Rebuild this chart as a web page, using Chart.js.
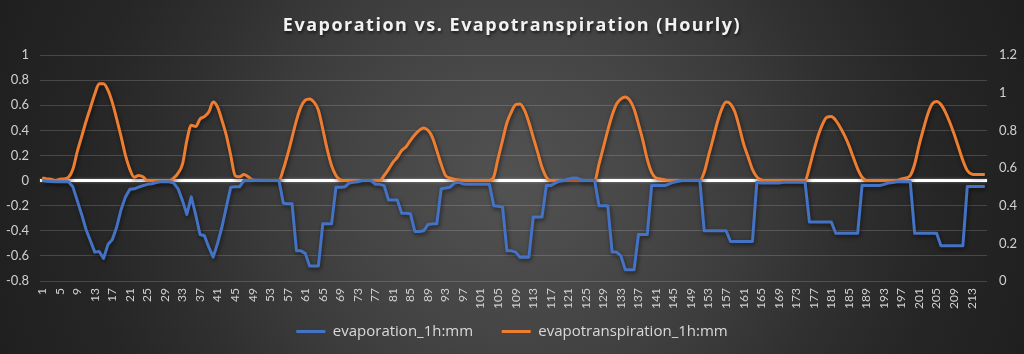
<!DOCTYPE html>
<html>
<head>
<meta charset="utf-8">
<script src="https://cdn.jsdelivr.net/npm/chart.js@4.4.1/dist/chart.umd.min.js"></script>
<style>
  html, body { margin: 0; padding: 0; background: #1e1e1e; }
  #wrap {
    position: relative; width: 1024px; height: 354px;
    background: radial-gradient(circle at 50% 52%, #525252 0%, #4b4b4b 15%, #444444 30%, #3b3b3b 45%, #303030 60%, #262626 78%, #1f1f1f 100%);
  }
  #title {
    position: absolute; left: 0; top: 12px; width: 1024px; text-align: center;
    font-family: 'Open Sans', sans-serif; font-weight: bold; font-size: 18px; line-height: 24px;
    letter-spacing: 1.5px; color: #f2f2f2;
    text-shadow: 1px 2px 3px rgba(0,0,0,0.6);
  }
  #c { position: absolute; left: 0; top: 0; }
</style>
</head>
<body>
<div id="wrap"><canvas id="c" width="1024" height="354"></canvas><div id="title"></div></div>
<script>
// ---- data ----
const hourCount = 216;
const categories = Array.from({ length: hourCount }, (_, i) => String(i + 1));

const evaporation = [
  0, -0.005, -0.008, -0.01, -0.01, -0.01, -0.01, -0.05, -0.16, -0.27,
  -0.39, -0.48, -0.57, -0.565, -0.62, -0.51, -0.47, -0.37, -0.23, -0.13,
  -0.07, -0.066, -0.053, -0.04, -0.03, -0.025, -0.015, -0.01, -0.01, -0.01,
  -0.02, -0.066, -0.16, -0.27, -0.13, -0.27, -0.43, -0.44, -0.53, -0.61,
  -0.5, -0.37, -0.21, -0.053, -0.05, -0.05, 0, 0, 0.005, 0.003,
  0, 0, 0, 0, 0, -0.18, -0.185, -0.185, -0.56, -0.56,
  -0.58, -0.68, -0.68, -0.68, -0.345, -0.345, -0.345, -0.053, -0.053, -0.05,
  -0.02, -0.013, -0.01, 0, 0, 0, -0.03, -0.03, -0.04, -0.155,
  -0.155, -0.155, -0.26, -0.26, -0.265, -0.405, -0.405, -0.4, -0.35, -0.345,
  -0.345, -0.066, -0.06, -0.053, -0.02, -0.013, -0.027, -0.03, -0.03, -0.03,
  -0.03, -0.03, -0.03, -0.2, -0.205, -0.21, -0.56, -0.56, -0.57, -0.61,
  -0.61, -0.61, -0.29, -0.29, -0.29, -0.04, -0.04, -0.02, -0.005, 0,
  0.013, 0.02, 0.02, 0.005, 0, 0, 0, -0.2, -0.2, -0.2,
  -0.57, -0.57, -0.6, -0.71, -0.71, -0.71, -0.43, -0.43, -0.43, -0.04,
  -0.04, -0.04, -0.04, -0.027, -0.013, -0.005, 0, 0, 0, 0,
  0, -0.4, -0.4, -0.4, -0.4, -0.4, -0.4, -0.485, -0.485, -0.485,
  -0.485, -0.485, -0.485, -0.013, -0.02, -0.02, -0.02, -0.02, -0.02, -0.013,
  -0.013, -0.013, -0.013, -0.013, -0.013, -0.33, -0.33, -0.33, -0.33, -0.33,
  -0.33, -0.42, -0.42, -0.42, -0.42, -0.42, -0.42, -0.04, -0.04, -0.04,
  -0.04, -0.04, -0.03, -0.02, -0.015, -0.01, -0.01, -0.01, -0.01, -0.42,
  -0.42, -0.42, -0.42, -0.42, -0.42, -0.52, -0.52, -0.52, -0.52, -0.52,
  -0.52, -0.048, -0.048, -0.048, -0.048, -0.048
];

const evapotranspiration = [
  0.547, 0.542, 0.54, 0.533, 0.54, 0.542, 0.55, 0.593, 0.687, 0.767,
  0.847, 0.92, 0.993, 1.047, 1.047, 1.013, 0.947, 0.86, 0.767, 0.667,
  0.593, 0.551, 0.56, 0.553, 0.533, 0.533, 0.533, 0.533, 0.533, 0.533,
  0.547, 0.573, 0.62, 0.747, 0.827, 0.82, 0.86, 0.873, 0.897, 0.95,
  0.923, 0.853, 0.773, 0.667, 0.56, 0.553, 0.565, 0.553, 0.537, 0.533,
  0.533, 0.533, 0.533, 0.533, 0.533, 0.593, 0.673, 0.763, 0.853, 0.923,
  0.96, 0.967, 0.95, 0.907, 0.807, 0.7, 0.613, 0.56, 0.537, 0.533,
  0.533, 0.533, 0.533, 0.533, 0.533, 0.533, 0.533, 0.533, 0.56, 0.593,
  0.63, 0.657, 0.693, 0.713, 0.747, 0.777, 0.8, 0.813, 0.8, 0.763,
  0.693, 0.62, 0.56, 0.547, 0.54, 0.537, 0.533, 0.533, 0.533, 0.533,
  0.533, 0.533, 0.533, 0.553, 0.653, 0.747, 0.84, 0.897, 0.937, 0.94,
  0.907, 0.843, 0.763, 0.684, 0.604, 0.551, 0.533, 0.533, 0.533, 0.533,
  0.533, 0.533, 0.533, 0.533, 0.533, 0.533, 0.533, 0.62, 0.71, 0.8,
  0.88, 0.94, 0.967, 0.977, 0.96, 0.913, 0.833, 0.747, 0.647, 0.577,
  0.547, 0.542, 0.537, 0.533, 0.533, 0.533, 0.533, 0.533, 0.533, 0.533,
  0.533, 0.577, 0.667, 0.753, 0.843, 0.913, 0.95, 0.94, 0.897, 0.817,
  0.727, 0.66, 0.593, 0.553, 0.537, 0.533, 0.533, 0.533, 0.533, 0.533,
  0.533, 0.533, 0.533, 0.533, 0.533, 0.604, 0.693, 0.773, 0.833, 0.87,
  0.873, 0.853, 0.817, 0.773, 0.72, 0.657, 0.595, 0.551, 0.533, 0.533,
  0.533, 0.533, 0.533, 0.533, 0.533, 0.533, 0.542, 0.547, 0.56, 0.62,
  0.72, 0.807, 0.887, 0.94, 0.953, 0.937, 0.897, 0.843, 0.78, 0.71,
  0.64, 0.587, 0.568, 0.565, 0.565, 0.565
];

const leftTicks = { min: -0.8, max: 1, step: 0.2 };
const rightTicks = { min: 0, max: 1.2, step: 0.2 };
const titleText = 'Evaporation vs. Evapotranspiration (Hourly)';
const seriesNames = ['evaporation_1h:mm', 'evapotranspiration_1h:mm'];

document.getElementById('title').textContent = titleText;

// ---- plugins ----
const zeroLine = {
  id: 'zeroLine',
  beforeDatasetsDraw(chart) {
    const { ctx, chartArea } = chart;
    const y = chart.scales.y.getPixelForValue(0);
    ctx.save();
    ctx.strokeStyle = '#ffffff';
    ctx.lineWidth = 3;
    ctx.shadowColor = 'rgba(255,255,255,0.35)';
    ctx.shadowBlur = 3;
    ctx.beginPath();
    ctx.moveTo(chartArea.left, y);
    ctx.lineTo(chartArea.right, y);
    ctx.stroke();
    ctx.restore();
  }
};
const lineShadow = {
  id: 'lineShadow',
  beforeDatasetDraw(chart) {
    const ctx = chart.ctx;
    ctx.save();
    ctx.shadowColor = 'rgba(0,0,0,0.55)';
    ctx.shadowBlur = 4;
    ctx.shadowOffsetX = 1;
    ctx.shadowOffsetY = 2;
  },
  afterDatasetDraw(chart) {
    chart.ctx.restore();
  }
};

const fmt = v => String(Number(v.toFixed(1)));

new Chart(document.getElementById('c'), {
  type: 'line',
  data: {
    labels: categories,
    datasets: [
      {
        label: seriesNames[0],
        data: evaporation,
        yAxisID: 'y',
        borderColor: '#4472C4',
        backgroundColor: '#4472C4',
        borderWidth: 3,
        pointRadius: 0,
        tension: 0,
        borderJoinStyle: 'round'
      },
      {
        label: seriesNames[1],
        data: evapotranspiration,
        yAxisID: 'y1',
        borderColor: '#ED7D31',
        backgroundColor: '#ED7D31',
        borderWidth: 3,
        pointRadius: 0,
        cubicInterpolationMode: 'monotone',
        borderJoinStyle: 'round'
      }
    ]
  },
  options: {
    responsive: false,
    animation: false,
    layout: { padding: { left: 0, right: 0, top: 55, bottom: 5 } },
    plugins: {
      title: { display: false },
      legend: {
        position: 'bottom',
        labels: {
          color: '#d9d9d9',
          font: { family: 'Open Sans', size: 15 },
          usePointStyle: true,
          pointStyle: 'line',
          pointStyleWidth: 29,
          padding: 13,
          generateLabels(chart) {
            const items = Chart.defaults.plugins.legend.labels.generateLabels(chart);
            items.forEach((it, i) => { if (i < items.length - 1) it.text = it.text + '    '; });
            return items;
          }
        }
      },
      tooltip: { enabled: false }
    },
    scales: {
      x: {
        offset: true,
        grid: { display: false, drawTicks: false },
        border: { display: false },
        ticks: {
          autoSkip: false,
          minRotation: 90,
          maxRotation: 90,
          padding: 7,
          color: '#d0d0d0',
          font: { family: 'Lato', size: 12 },
          callback: (val, idx) => (idx % 4 === 0 ? categories[idx] : '')
        },
        afterFit: s => { s.height = 30; }
      },
      y: {
        position: 'left',
        min: leftTicks.min,
        max: leftTicks.max,
        ticks: { stepSize: leftTicks.step, color: '#d0d0d0', font: { family: 'Lato', size: 13 }, padding: 11, callback: v => fmt(v) },
        grid: { color: 'rgba(255,255,255,0.16)', lineWidth: 1, drawTicks: false },
        border: { display: false },
        afterFit: s => { s.width = 40; }
      },
      y1: {
        position: 'right',
        min: rightTicks.min,
        max: rightTicks.max,
        ticks: { stepSize: rightTicks.step, color: '#d0d0d0', font: { family: 'Lato', size: 13 }, padding: 12, callback: v => fmt(v) },
        grid: { display: false, drawTicks: false },
        border: { display: false },
        afterFit: s => { s.width = 37; }
      }
    }
  },
  plugins: [zeroLine, lineShadow]
});
</script>
</body>
</html>
